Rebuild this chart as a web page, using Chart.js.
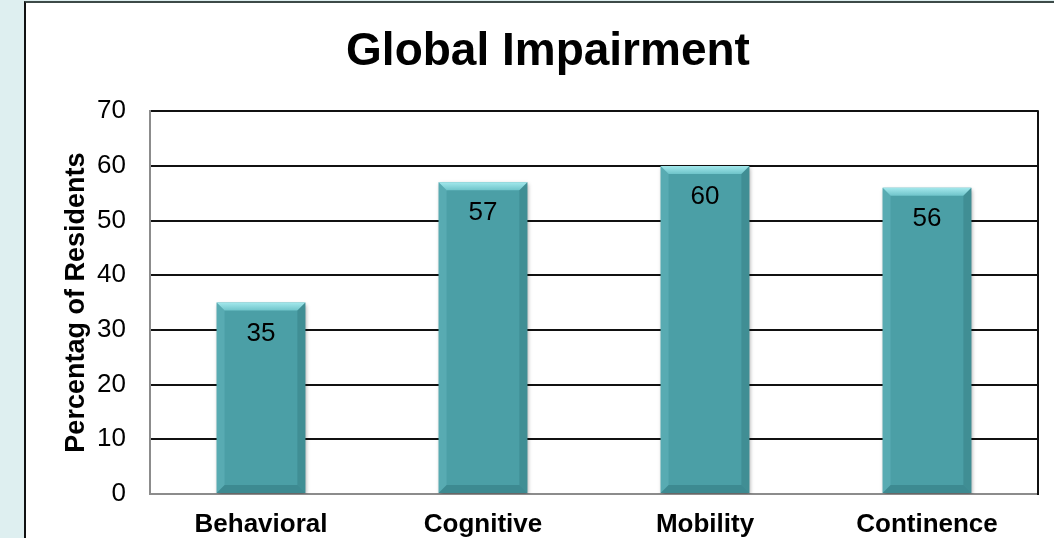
<!DOCTYPE html>
<html>
<head>
<meta charset="utf-8">
<script src="https://cdn.jsdelivr.net/npm/chart.js@4.4.1/dist/chart.umd.min.js"></script>
<style>
  html, body { margin: 0; padding: 0; width: 1054px; height: 538px; overflow: hidden; background: #deeff0; }
  #frame { position: absolute; left: 24px; top: 1px; width: 1100px; height: 600px; background: #fff;
           border-left: 2px solid #111; border-top: 2px solid #3d4a48; }
  #wrap { position: absolute; left: 0; top: 0; width: 1054px; height: 538px; }
</style>
</head>
<body>
<div id="frame"></div>
<div id="wrap"><canvas id="chart" width="1054" height="538"></canvas></div>
<script>
var categories = ["Behavioral", "Cognitive", "Mobility", "Continence"];
var values = [35, 57, 60, 56];
var yTicks = [0, 10, 20, 30, 40, 50, 60, 70];

var FONT = "'Liberation Sans', Arial, sans-serif";

// bevel look + value labels on the bars
var bevel = {
    id: 'bevel',
    beforeDatasetDraw: function (chart) {
        var ctx = chart.ctx;
        ctx.save();
        ctx.shadowColor = 'rgba(0,0,0,0.35)';
        ctx.shadowBlur = 4;
        ctx.shadowOffsetX = 1;
        ctx.shadowOffsetY = 2;
    },
    afterDatasetDraw: function (chart) {
        chart.ctx.restore();
    },
    afterDatasetsDraw: function (chart) {
        var ctx = chart.ctx;
        var meta = chart.getDatasetMeta(0);
        meta.data.forEach(function (bar, i) {
            var l = bar.x - bar.width / 2, r = bar.x + bar.width / 2;
            var t = bar.y, b = bar.base, d = 8;
            ctx.save();
            // top bevel
            var g = ctx.createLinearGradient(0, t, 0, t + d);
            g.addColorStop(0, '#a3e8ec');
            g.addColorStop(1, '#6fc4ca');
            ctx.fillStyle = g;
            ctx.beginPath();
            ctx.moveTo(l, t); ctx.lineTo(r, t); ctx.lineTo(r - d, t + d); ctx.lineTo(l + d, t + d);
            ctx.closePath(); ctx.fill();
            // left side
            ctx.fillStyle = 'rgba(120,200,205,0.3)';
            ctx.beginPath();
            ctx.moveTo(l, t); ctx.lineTo(l + d, t + d); ctx.lineTo(l + d, b - d); ctx.lineTo(l, b);
            ctx.closePath(); ctx.fill();
            // right side
            ctx.fillStyle = 'rgba(30,90,95,0.25)';
            ctx.beginPath();
            ctx.moveTo(r, t); ctx.lineTo(r - d, t + d); ctx.lineTo(r - d, b - d); ctx.lineTo(r, b);
            ctx.closePath(); ctx.fill();
            // bottom
            ctx.fillStyle = 'rgba(30,90,95,0.3)';
            ctx.beginPath();
            ctx.moveTo(l, b); ctx.lineTo(l + d, b - d); ctx.lineTo(r - d, b - d); ctx.lineTo(r, b);
            ctx.closePath(); ctx.fill();
            // value label
            ctx.fillStyle = '#000';
            ctx.font = '26px ' + FONT;
            ctx.textAlign = 'center';
            ctx.textBaseline = 'middle';
            ctx.fillText(String(values[i]), bar.x, t + 31);
            ctx.restore();
        });
    },
    afterDraw: function (chart) {
        var a = chart.chartArea, ctx = chart.ctx;
        ctx.save();
        ctx.strokeStyle = '#111';
        ctx.lineWidth = 2;
        ctx.beginPath();
        ctx.moveTo(a.right, a.top - 1);
        ctx.lineTo(a.right, a.bottom + 1);
        ctx.stroke();
        ctx.restore();
    }
};

var ctx = document.getElementById('chart').getContext('2d');
var chart = new Chart(ctx, {
    type: 'bar',
    data: {
        labels: categories,
        datasets: [{
            label: 'Global Impairment',
            data: values,
            backgroundColor: '#4b9fa6',
            borderWidth: 0,
            barPercentage: 0.4,
            categoryPercentage: 1.0
        }]
    },
    plugins: [bevel],
    options: {
        responsive: false,
        animation: false,
        devicePixelRatio: 1,
        layout: { padding: { left: 58, right: 16, top: 0, bottom: 0 } },
        plugins: {
            legend: { display: false },
            tooltip: { enabled: false },
            title: {
                display: true,
                text: 'Global Impairment',
                color: '#000',
                font: { family: FONT, size: 46, weight: 'bold' },
                padding: { top: 25, bottom: 31 }
            }
        },
        scales: {
            x: {
                grid: { display: false, drawTicks: false },
                border: { display: true, color: '#8c8c8c', width: 2 },
                ticks: { color: '#000', padding: 15, font: { family: FONT, size: 26, weight: 'bold' } },
                afterFit: function (s) { s.height = 44; }
            },
            y: {
                min: 0,
                max: 70,
                afterBuildTicks: function (s) { s.ticks = yTicks.map(function (v) { return { value: v }; }); },
                grid: { color: '#111', lineWidth: 2, drawTicks: false },
                border: { display: true, color: '#8c8c8c', width: 2 },
                ticks: { color: '#000', padding: 24, font: { family: FONT, size: 26 } },
                title: {
                    display: true,
                    text: 'Percentag of Residents',
                    color: '#000',
                    font: { family: FONT, size: 27, weight: 'bold' },
                    padding: { top: 2, bottom: 0 }
                },
                afterFit: function (s) { s.width = 92; }
            }
        }
    }
});
</script>
</body>
</html>
